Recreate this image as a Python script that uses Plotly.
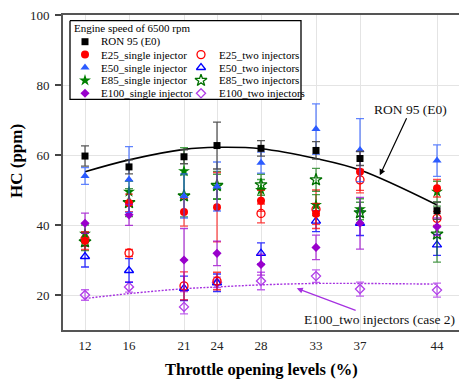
import plotly.graph_objects as go

# ---------------- data ----------------
throttle = [12, 16, 21, 24, 28, 33, 37, 44]
x_tick_labels = ["12", "16", "21", "24", "28", "33", "37", "44"]
y_tick_values = [20, 40, 60, 80, 100]

ron95 = [59.7, 56.6, 59.5, 62.7, 61.9, 61.3, 59.0, 44.1]
ron95_err = [2.9, 2.0, 2.0, 6.7, 2.2, 2.5, 2.0, 2.5]
e25_single = [35.5, 46.3, 43.7, 45.1, 46.9, 43.2, 55.2, 50.5]
e25_single_err = [2.5, 2.5, 4.0, 9.9, 3.0, 3.0, 6.0, 2.5]
e25_two = [36.0, 32.0, 22.6, 24.0, 43.3, 44.5, 52.9, 41.9]
e25_two_err = [2.0, 1.0, 4.0, 2.5, 2.7, 5.5, 3.0, 2.0]
e50_single = [54.0, 53.0, 48.3, 51.0, 57.8, 67.4, 61.4, 58.4]
e50_single_err = [2.4, 9.4, 6.3, 7.0, 3.0, 7.2, 9.0, 4.5]
e50_two = [31.0, 27.0, 21.9, 23.5, 31.9, 41.1, 40.5, 34.3]
e50_two_err = [3.0, 3.4, 3.5, 2.5, 3.0, 3.0, 3.5, 3.0]
e85_single = [37.5, 49.5, 55.4, 51.0, 50.0, 45.7, 44.5, 49.5]
e85_single_err = [2.5, 3.0, 6.7, 3.5, 3.0, 3.0, 3.0, 3.0]
e85_two = [35.2, 46.4, 48.3, 51.3, 51.5, 52.9, 43.5, 37.4]
e85_two_err = [2.5, 4.0, 6.0, 4.0, 3.0, 3.3, 3.0, 8.0]
e100_single = [40.5, 42.9, 30.0, 31.9, 28.7, 33.6, 40.5, 39.5]
e100_single_err = [2.9, 3.0, 9.0, 3.5, 3.0, 3.5, 7.4, 2.5]
e100_two = [20.0, 22.3, 16.6, 23.6, 24.0, 25.4, 21.7, 21.4]
e100_two_err = [1.5, 1.5, 2.0, 1.5, 2.5, 1.8, 2.0, 2.0]

# trend lines
ron95_fit = [55.2, 58.6, 61.6, 62.2, 61.8, 59.0, 55.7, 45.7]
e100_two_fit = [19.0, 20.4, 21.8, 22.3, 22.9, 23.3, 23.3, 23.1]

legend_title = "Engine speed of 6500 rpm"

# ---------------- styles ----------------
FONT = "Liberation Serif"

series = [
    dict(name="RON 95 (E0)", y=ron95, err=ron95_err, symbol="square", color="#000000",
         ecolor="rgba(70,70,70,0.9)", size=7, col=0, row=0, z=9),
    dict(name="E25_single injector", y=e25_single, err=e25_single_err, symbol="circle",
         color="#FF0000", ecolor="rgba(255,0,0,0.7)", size=8, col=0, row=1, z=6),
    dict(name="E25_two injectors", y=e25_two, err=e25_two_err, symbol="circle-open",
         color="#FF0000", ecolor="rgba(255,0,0,0.75)", size=8, col=1, row=1, z=3),
    dict(name="E50_single injector", y=e50_single, err=e50_single_err, symbol="triangle-up",
         color="#2B5BFF", ecolor="rgba(43,91,255,0.75)", size=8, col=0, row=2, z=8),
    dict(name="E50_two injectors", y=e50_two, err=e50_two_err, symbol="triangle-up-open",
         color="#0000FF", ecolor="rgba(0,0,255,0.8)", size=8, col=1, row=2, z=2),
    dict(name="E85_single injector", y=e85_single, err=e85_single_err, symbol="star",
         color="#008000", ecolor="rgba(0,128,0,0.7)", size=9, col=0, row=3, z=5),
    dict(name="E85_two injectors", y=e85_two, err=e85_two_err, symbol="star-open",
         color="#007000", ecolor="rgba(0,112,0,0.7)", size=9, col=1, row=3, z=4),
    dict(name="E100_single injector", y=e100_single, err=e100_single_err, symbol="diamond",
         color="#9900CC", ecolor="rgba(153,0,204,0.75)", size=7, col=0, row=4, z=7),
    dict(name="E100_two injectors", y=e100_two, err=e100_two_err, symbol="diamond-open",
         color="#B03CE8", ecolor="rgba(176,60,232,0.8)", size=7, col=1, row=4, z=1),
]

fig = go.Figure()

# trend lines
fig.add_trace(go.Scatter(x=throttle, y=ron95_fit, mode="lines", line=dict(color="black", width=1.6, shape="spline"),
                         showlegend=False, hoverinfo="skip"))
fig.add_trace(go.Scatter(x=throttle, y=e100_two_fit, mode="lines",
                         line=dict(color="#A530E0", width=1.4, dash="2px,1.5px", shape="spline"),
                         showlegend=False, hoverinfo="skip"))

for s in sorted(series, key=lambda d: d["z"]):
    open_marker = s["symbol"].endswith("open")
    fig.add_trace(go.Scatter(
        x=throttle, y=s["y"], mode="markers", name=s["name"], showlegend=False,
        marker=dict(symbol=s["symbol"], size=s["size"], color=s["color"],
                    line=dict(color=s["color"], width=1.3 if open_marker else 0)),
        error_y=dict(type="data", array=s["err"], visible=True, color=s["ecolor"], thickness=1.3, width=4),
    ))

# ---------------- manual legend (pixel coordinates on an overlay axis) ----------------
PLOT_L, PLOT_R, PLOT_T, PLOT_B = 63, 459, 15, 330
box_x0, box_x1, box_y0, box_y1 = 70, 301, 20.7, 99.3
row_y0, row_gap = 41.7, 12.9
sym_x = [85, 201]
text_x = [98.5, 216.5]

fig.add_trace(go.Scatter(x=[box_x0, box_x1, box_x1, box_x0, box_x0], y=[box_y0, box_y0, box_y1, box_y1, box_y0],
                         xaxis="x2", yaxis="y2", mode="lines", fill="toself", fillcolor="white",
                         line=dict(color="black", width=1.3), showlegend=False, hoverinfo="skip"))
annotations = []
annotations.append(dict(x=72, y=28.3, xref="x2", yref="y2", text=legend_title, showarrow=False,
                        xanchor="left", yanchor="middle", font=dict(family=FONT, size=11, color="black")))
for s in series:
    yy = row_y0 + s["row"] * row_gap
    open_marker = s["symbol"].endswith("open")
    fig.add_trace(go.Scatter(x=[sym_x[s["col"]]], y=[yy], xaxis="x2", yaxis="y2", mode="markers",
                             marker=dict(symbol=s["symbol"], size=s["size"], color=s["color"],
                                         line=dict(color=s["color"], width=1.3 if open_marker else 0)),
                             showlegend=False, hoverinfo="skip"))
    annotations.append(dict(x=text_x[s["col"]], y=yy, xref="x2", yref="y2", text=s["name"], showarrow=False,
                            xanchor="left", yanchor="middle", font=dict(family=FONT, size=11, color="black")))

# callouts
annotations.append(dict(x=38.8, y=54.2, xref="x", yref="y", text="RON 95 (E0)", showarrow=True,
                        arrowhead=2, arrowsize=1, arrowwidth=1.2, arrowcolor="black", ax=31, ay=-66,
                        font=dict(family=FONT, size=13.5, color="#111")))
annotations.append(dict(x=31.25, y=21.9, xref="x", yref="y", text="E100_two injectors (case 2)", showarrow=True,
                        arrowhead=2, arrowsize=1, arrowwidth=1.2, arrowcolor="#A530E0", ax=83, ay=31,
                        font=dict(family=FONT, size=13.5, color="#111")))
# axis titles
annotations.append(dict(x=(16 - PLOT_L) / (PLOT_R - PLOT_L), y=1 - (161 - PLOT_T) / (PLOT_B - PLOT_T),
                        xref="paper", yref="paper", text="<b>HC (ppm)</b>", showarrow=False, textangle=-90,
                        xanchor="center", yanchor="middle", font=dict(family=FONT, size=17, color="black")))
annotations.append(dict(x=0.5, y=1 - (369 - PLOT_T) / (PLOT_B - PLOT_T),
                        xref="paper", yref="paper", text="<b>Throttle opening levels (%)</b>", showarrow=False,
                        xanchor="center", yanchor="middle", font=dict(family=FONT, size=16.5, color="black")))

fig.update_layout(
    width=459, height=380,
    margin=dict(l=PLOT_L, r=459 - PLOT_R, t=PLOT_T, b=380 - PLOT_B, autoexpand=False),
    paper_bgcolor="white", plot_bgcolor="white",
    showlegend=False,
    annotations=annotations,
    xaxis=dict(range=[10, 46], tickvals=throttle, ticktext=x_tick_labels, ticks="",
               showline=True, linecolor="#555", linewidth=2, mirror=True,
               showgrid=True, gridcolor="#e4e4e4", gridwidth=1, zeroline=False,
               tickfont=dict(family=FONT, size=13, color="#222"), ticklabelstandoff=2),
    yaxis=dict(range=[10, 100], tickvals=y_tick_values, ticks="outside", ticklen=6, tickwidth=1.5, tickcolor="#444",
               showline=True, linecolor="#555", linewidth=2,
               showgrid=True, gridcolor="#e4e4e4", gridwidth=1, zeroline=False,
               tickfont=dict(family=FONT, size=13, color="#222"), ticklabelstandoff=3),
    xaxis2=dict(overlaying="x", anchor="y2", range=[PLOT_L, PLOT_R], visible=False, fixedrange=True),
    yaxis2=dict(overlaying="y", anchor="x2", range=[PLOT_B, PLOT_T], visible=False, fixedrange=True),
)

fig.write_html("out.html")
